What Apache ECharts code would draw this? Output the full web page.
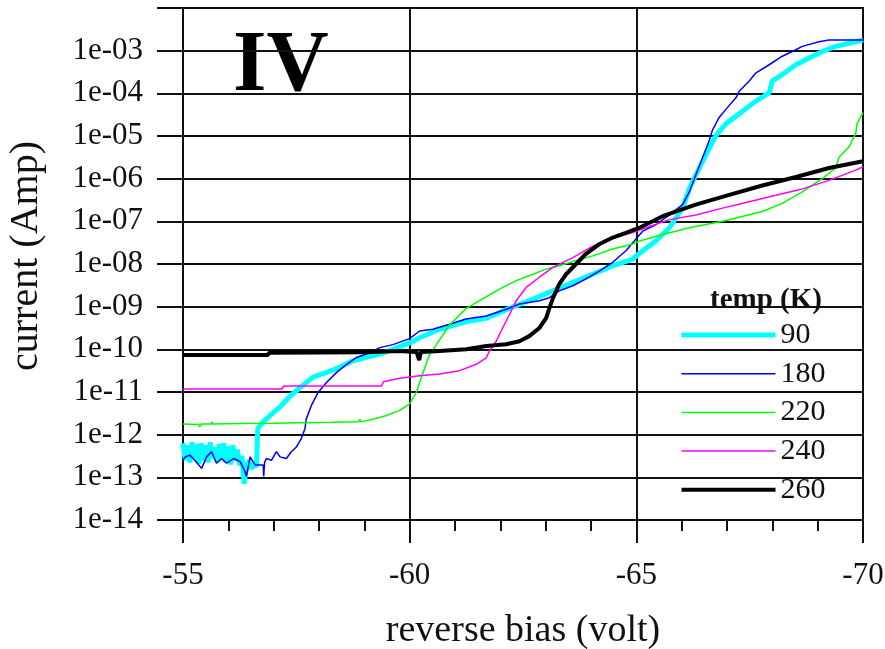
<!DOCTYPE html>
<html>
<head>
<meta charset="utf-8">
<script src="https://cdn.jsdelivr.net/npm/echarts@6/dist/echarts.min.js"></script>
<style>
  html, body { margin: 0; padding: 0; background: #fff; }
  #iv { width: 885px; height: 649px; }
</style>
</head>
<body>
<div id="iv"></div>
<script>
// temperatures (K), legend order
var temps = ['90', '180', '220', '240', '260'];
var xTicks = [-55, -60, -65, -70];

// reverse bias (volt) and log10(current / Amp)
var bias90 = [-55.00, -55.05, -55.10, -55.15, -55.20, -55.25, -55.30, -55.35, -55.40, -55.45, -55.50, -55.55, -55.60, -55.65, -55.70, -55.75, -55.80, -55.85, -55.90, -55.95, -56.00, -56.05, -56.10, -56.15, -56.20, -56.25, -56.30, -56.35, -56.40, -56.45, -56.50, -56.55, -56.62, -56.65, -56.77, -56.92, -57.14, -57.36, -57.58, -57.87, -58.17, -58.46, -58.75, -59.05, -59.34, -59.63, -60.00, -60.22, -60.66, -61.25, -61.69, -62.20, -62.72, -63.16, -63.60, -64.04, -64.48, -64.90, -65.14, -65.43, -65.73, -66.02, -66.17, -66.31, -66.54, -66.76, -66.98, -67.27, -67.64, -67.93, -68.00, -68.22, -68.52, -68.81, -69.10, -69.40, -70.00];
var logI90 = [-12.20, -12.60, -12.25, -12.65, -12.18, -12.55, -12.22, -12.68, -12.20, -12.60, -12.25, -12.65, -12.18, -12.55, -12.30, -12.65, -12.22, -12.60, -12.20, -12.65, -12.28, -12.70, -12.25, -12.60, -12.35, -12.72, -12.50, -13.15, -12.75, -12.60, -12.80, -12.70, -12.75, -11.85, -11.70, -11.55, -11.35, -11.10, -10.90, -10.65, -10.54, -10.42, -10.27, -10.19, -10.11, -10.00, -9.85, -9.73, -9.53, -9.35, -9.27, -9.04, -8.82, -8.63, -8.43, -8.24, -8.04, -7.90, -7.69, -7.46, -7.15, -6.69, -6.23, -5.92, -5.43, -4.98, -4.71, -4.48, -4.18, -3.99, -3.71, -3.56, -3.33, -3.17, -3.02, -2.90, -2.75];

var bias180 = [-55.00, -55.04, -55.15, -55.26, -55.41, -55.52, -55.63, -55.74, -55.85, -55.96, -56.11, -56.26, -56.37, -56.40, -56.48, -56.59, -56.77, -56.78, -56.80, -56.84, -56.95, -57.06, -57.14, -57.28, -57.39, -57.50, -57.61, -57.69, -57.72, -57.83, -57.98, -58.17, -58.39, -58.61, -58.83, -59.12, -59.34, -59.63, -60.00, -60.22, -60.51, -60.88, -61.24, -61.69, -62.13, -62.42, -62.86, -63.08, -63.30, -63.60, -63.89, -64.19, -64.48, -64.77, -64.92, -65.14, -65.43, -65.73, -66.02, -66.17, -66.31, -66.46, -66.61, -66.68, -66.83, -66.98, -67.20, -67.27, -67.49, -67.64, -67.93, -68.22, -68.44, -68.66, -69.03, -69.25, -70.00];
var logI180 = [-12.60, -12.53, -12.48, -12.60, -12.79, -12.52, -12.40, -12.67, -12.56, -12.67, -12.56, -12.63, -12.87, -12.98, -12.52, -12.71, -12.71, -12.98, -12.65, -12.56, -12.60, -12.40, -12.52, -12.56, -12.40, -12.29, -12.09, -11.86, -11.63, -11.32, -11.01, -10.77, -10.54, -10.35, -10.19, -10.08, -9.96, -9.89, -9.75, -9.57, -9.53, -9.41, -9.29, -9.22, -9.06, -8.94, -8.86, -8.79, -8.63, -8.51, -8.35, -8.16, -7.96, -7.69, -7.50, -7.23, -7.08, -6.85, -6.61, -6.31, -5.92, -5.51, -5.10, -4.86, -4.56, -4.37, -4.10, -3.95, -3.71, -3.52, -3.33, -3.13, -3.02, -2.90, -2.79, -2.75, -2.75];

var bias220 = [-55.00, -55.35, -55.37, -55.40, -55.62, -55.64, -55.66, -56.26, -57.00, -57.58, -58.30, -58.88, -58.90, -58.92, -59.19, -59.49, -59.78, -60.00, -60.15, -60.22, -60.44, -60.59, -60.88, -61.25, -61.54, -61.98, -62.35, -62.72, -63.01, -63.30, -63.67, -64.04, -64.48, -64.92, -65.07, -65.58, -66.17, -66.90, -67.20, -67.78, -68.22, -68.66, -69.10, -69.40, -69.47, -69.69, -69.84, -69.87, -70.00];
var logI220 = [-11.75, -11.76, -11.82, -11.75, -11.75, -11.70, -11.75, -11.74, -11.73, -11.72, -11.71, -11.70, -11.64, -11.70, -11.64, -11.55, -11.43, -11.28, -11.00, -10.77, -10.12, -9.89, -9.43, -9.04, -8.86, -8.59, -8.39, -8.24, -8.12, -8.04, -7.92, -7.81, -7.65, -7.53, -7.46, -7.31, -7.15, -7.00, -6.92, -6.77, -6.58, -6.31, -6.00, -5.75, -5.50, -5.26, -4.94, -4.71, -4.45];

var bias240 = [-55.00, -57.18, -57.22, -59.38, -59.42, -59.78, -60.22, -60.66, -61.10, -61.47, -61.69, -61.76, -61.91, -62.05, -62.20, -62.35, -62.57, -62.86, -63.16, -63.60, -64.04, -64.48, -64.90, -65.29, -65.73, -66.31, -66.90, -67.49, -68.08, -68.66, -69.25, -69.84, -70.00];
var logI240 = [-10.93, -10.93, -10.86, -10.86, -10.76, -10.68, -10.62, -10.58, -10.50, -10.35, -10.20, -10.04, -9.81, -9.50, -9.19, -8.86, -8.55, -8.31, -8.08, -7.85, -7.58, -7.39, -7.27, -7.12, -6.96, -6.85, -6.69, -6.54, -6.39, -6.24, -6.04, -5.80, -5.72];

var bias260 = [-55.00, -56.87, -56.90, -59.00, -59.78, -60.15, -60.21, -60.25, -60.66, -61.25, -61.69, -62.13, -62.42, -62.64, -62.86, -63.01, -63.08, -63.16, -63.30, -63.45, -63.67, -63.89, -64.19, -64.48, -64.77, -65.07, -65.58, -66.31, -67.05, -67.78, -68.52, -69.25, -70.00];
var logI260 = [-10.13, -10.13, -10.08, -10.07, -10.04, -10.06, -10.25, -10.06, -10.04, -10.00, -9.92, -9.88, -9.81, -9.69, -9.50, -9.27, -9.04, -8.80, -8.47, -8.24, -8.00, -7.76, -7.53, -7.38, -7.27, -7.15, -6.88, -6.61, -6.38, -6.16, -5.96, -5.75, -5.59];

var colors = ['#00ffff', '#0000ff', '#00ff00', '#ff00ff', '#000000'];
var widths = [5, 1.5, 1.5, 1.5, 4];
var biasSets = [bias90, bias180, bias220, bias240, bias260];
var logSets = [logI90, logI180, logI220, logI240, logI260];

function pairs(xs, ls) {
  return xs.map(function (x, i) { return [x, Math.pow(10, ls[i])]; });
}

var serif = 'Liberation Serif';
var ink = '#111';

var chart = echarts.init(document.getElementById('iv'));

var option = {
  animation: false,
  backgroundColor: '#fff',
  grid: {
    left: 183, right: 22, top: 8, bottom: 129,
    outerBoundsMode: 'none',
    show: true, borderColor: ink, borderWidth: 2
  },
  legend: {
    data: temps.map(function (t, i) {
      return { name: t, itemStyle: { opacity: 0 }, lineStyle: { color: colors[i], width: widths[i] } };
    }),
    orient: 'vertical',
    left: 679,
    top: 320,
    padding: 0,
    itemWidth: 94,
    itemHeight: 14,
    itemGap: 8.7,
    textStyle: { fontFamily: serif, fontSize: 30, color: ink }
  },
  graphic: [
    {
      type: 'text', left: 233, top: 25,
      style: { text: 'IV', font: 'bold 86px "Liberation Serif"', fill: '#000' }
    },
    {
      type: 'text', left: 710, top: 286,
      style: { text: 'temp (K)', font: 'bold 29px "Liberation Serif"', fill: ink }
    }
  ],
  xAxis: {
    type: 'value',
    inverse: true,
    min: -70,
    max: -55,
    interval: 5,
    name: 'reverse bias (volt)',
    nameLocation: 'middle',
    nameGap: 92,
    nameTextStyle: { fontFamily: serif, fontSize: 38, color: ink },
    axisLine: { show: true, onZero: false, lineStyle: { color: ink, width: 2 } },
    axisTick: { show: true, length: 23, lineStyle: { color: ink, width: 2 } },
    minorTick: { show: true, splitNumber: 5, length: 11, lineStyle: { color: ink, width: 2 } },
    axisLabel: { margin: 40, fontFamily: serif, fontSize: 31, color: ink },
    splitLine: { show: true, lineStyle: { color: ink, width: 2 } }
  },
  yAxis: {
    type: 'log',
    logBase: 10,
    min: 1e-14,
    max: 1e-2,
    interval: 1,
    name: 'current (Amp)',
    nameLocation: 'middle',
    nameGap: 137,
    nameTextStyle: { fontFamily: serif, fontSize: 40, color: ink, padding: [0, 0, 0, 16] },
    axisLine: { show: true, lineStyle: { color: ink, width: 2 } },
    axisTick: { show: true, length: 26, lineStyle: { color: ink, width: 2 } },
    axisLabel: {
      margin: 40, fontFamily: serif, fontSize: 31, color: ink,
      formatter: function (v) {
        var e = Math.round(Math.log10(v));
        if (e > -3) return '';
        var n = -e;
        return '1e-' + (n < 10 ? '0' + n : n);
      }
    },
    splitLine: { show: true, lineStyle: { color: ink, width: 2 } }
  },
  series: temps.map(function (t, i) {
    return {
      name: t,
      type: 'line',
      data: pairs(biasSets[i], logSets[i]),
      showSymbol: false,
      symbol: 'none',
      color: colors[i],
      lineStyle: { color: colors[i], width: widths[i] },
      z: 2 + i
    };
  })
};

chart.setOption(option);
</script>
</body>
</html>
